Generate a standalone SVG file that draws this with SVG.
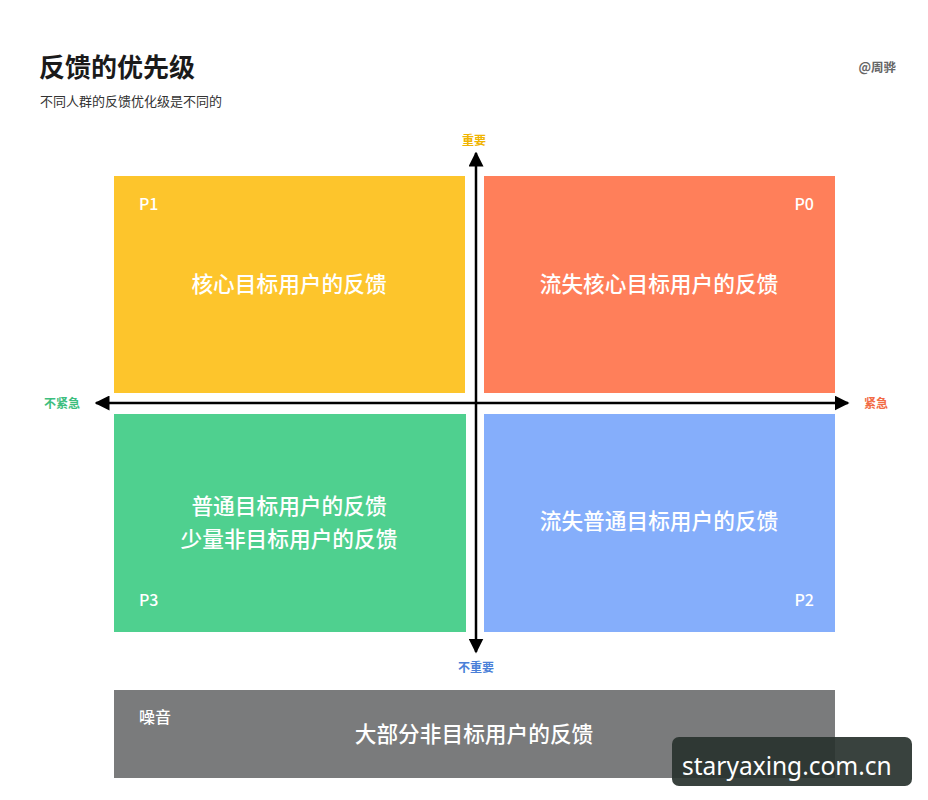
<svg xmlns="http://www.w3.org/2000/svg" width="928" height="800" viewBox="0 0 928 800">
<style>
.cjk{font-family:"Noto Sans CJK SC","Noto Sans",sans-serif}
.q{fill:#fff;font-size:21.7px;font-weight:500;text-anchor:middle}
.p{fill:#fff;font-size:16px;font-weight:500}
.ax{font-size:12px;font-weight:700;text-anchor:middle}
.axis{stroke:#000;stroke-width:2.5;fill:none}
</style>
<defs>
<marker id="ah" viewBox="0 0 10 10" refX="9" refY="5" markerWidth="6" markerHeight="6" orient="auto" markerUnits="strokeWidth">
<path d="M0,0 L10,5 L0,10 z" fill="#000"/>
</marker>
</defs>
<rect width="928" height="800" fill="#fff"/>
<g id="header">
<text class="cjk" x="39" y="77" font-size="26" font-weight="700" fill="#1a1a1a">反馈的优先级</text>
<text class="cjk" x="40" y="106" font-size="13" fill="#333">不同人群的反馈优化级是不同的</text>
<text class="cjk" x="896" y="72" font-size="12.5" font-weight="700" fill="#666" text-anchor="end">@周骅</text>
</g>
<g id="p1">
<rect x="114" y="176" width="351" height="217" fill="#FDC52C"/>
<text class="cjk p" x="139" y="210">P1</text>
<text class="cjk q" x="289" y="292">核心目标用户的反馈</text>
</g>
<g id="p0">
<rect x="484" y="176" width="351" height="217" fill="#FF7F5A"/>
<text class="cjk p" x="814" y="210" text-anchor="end">P0</text>
<text class="cjk q" x="659" y="292">流失核心目标用户的反馈</text>
</g>
<g id="p3">
<rect x="114" y="414" width="352" height="218" fill="#4FD08F"/>
<text class="cjk p" x="139" y="606">P3</text>
<text class="cjk q" x="289" y="514">普通目标用户的反馈</text>
<text class="cjk q" x="289" y="547">少量非目标用户的反馈</text>
</g>
<g id="p2">
<rect x="484" y="414" width="351" height="218" fill="#85AEFB"/>
<text class="cjk p" x="814" y="606" text-anchor="end">P2</text>
<text class="cjk q" x="659" y="529">流失普通目标用户的反馈</text>
</g>
<g id="connectors">
<line class="axis" x1="476" y1="403" x2="96" y2="403" marker-end="url(#ah)"/>
<line class="axis" x1="476" y1="403" x2="848" y2="403" marker-end="url(#ah)"/>
<line class="axis" x1="476" y1="403" x2="476" y2="153" marker-end="url(#ah)"/>
<line class="axis" x1="476" y1="403" x2="476" y2="652" marker-end="url(#ah)"/>
</g>
<g id="axis-labels">
<text class="cjk ax" x="474" y="145" fill="#F0B400">重要</text>
<text class="cjk ax" x="62" y="408" fill="#3DBE7E">不紧急</text>
<text class="cjk ax" x="876" y="408" fill="#F26B45">紧急</text>
<text class="cjk ax" x="476" y="672" fill="#4A7FD8">不重要</text>
</g>
<g id="noise">
<rect x="114" y="690" width="721" height="88" fill="#7A7B7C"/>
<text class="cjk p" x="139" y="723">噪音</text>
<text class="cjk q" x="474" y="742">大部分非目标用户的反馈</text>
</g>
<g id="watermark">
<rect x="672" y="737" width="240" height="49" rx="7" fill="#28322e" fill-opacity="0.92"/>
<text x="682" y="775" font-family="Noto Sans,sans-serif" font-size="24.5" fill="#fff">staryaxing.com.cn</text>
</g>
</svg>
